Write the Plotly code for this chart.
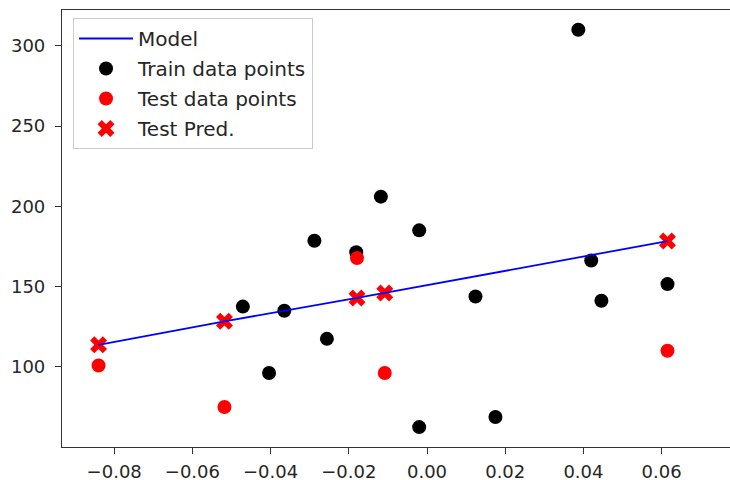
import plotly.graph_objects as go

# Train data (black)
train_x = [0.0387, -0.0118, -0.0020, -0.0288, -0.0181, -0.0471, -0.0365, -0.0256,
           -0.0404, 0.0124, 0.0420, 0.0446, 0.0615, 0.0175, -0.0020]
train_y = [310, 206, 185, 178.5, 171.4, 137.5, 134.9, 117.4,
           96.1, 143.8, 166.2, 141.1, 151.5, 68.7, 62.4]

# Test data (red)
test_x = [-0.0840, -0.0518, -0.0179, -0.0108, 0.0615]
test_y = [100.8, 74.9, 167.7, 96.1, 110.0]

# Model predictions on test x
pred_y = [113.7, 128.3, 142.9, 146.0, 178.3]

x_ticks = [-0.08, -0.06, -0.04, -0.02, 0.00, 0.02, 0.04, 0.06]
x_tick_labels = ["\u22120.08", "\u22120.06", "\u22120.04", "\u22120.02", "0.00", "0.02", "0.04", "0.06"]
y_ticks = [100, 150, 200, 250, 300]

FONT = "DejaVu Sans"
TXT = "#262626"

fig = go.Figure()
fig.add_trace(go.Scatter(x=train_x, y=train_y, mode="markers", name="Train data points",
                         marker=dict(color="black", size=14, line=dict(width=0)),
                         legendgroup="b", legendrank=2))
fig.add_trace(go.Scatter(x=test_x, y=test_y, mode="markers", name="Test data points",
                         marker=dict(color="#ff0000", size=14, line=dict(width=0)),
                         legendgroup="c", legendrank=3))
fig.add_trace(go.Scatter(x=test_x, y=pred_y, mode="markers", name="Test Pred.",
                         marker=dict(color="#ff0000", size=15, symbol="x", line=dict(width=0)),
                         legendgroup="d", legendrank=4))
fig.add_trace(go.Scatter(x=test_x, y=pred_y, mode="lines", name="Model",
                         line=dict(color="#0000ff", width=1.8),
                         legendgroup="a", legendrank=1))

fig.update_layout(
    width=730, height=480,
    margin=dict(l=62, r=0, t=10, b=33),
    paper_bgcolor="white", plot_bgcolor="white",
    font=dict(family=FONT, size=18, color=TXT),
    showlegend=True,
    legend=dict(x=0.0165, y=0.9817, xanchor="left", yanchor="top",
                bgcolor="white", bordercolor="#cccccc", borderwidth=1,
                font=dict(family=FONT, size=20, color=TXT),
                tracegroupgap=1, itemwidth=54),
)
fig.update_xaxes(range=[-0.09335, 0.07749], tickvals=x_ticks, ticktext=x_tick_labels,
                 automargin=False,
                 showgrid=False, zeroline=False, showline=True, linecolor="#333333",
                 linewidth=1.2, mirror=True, ticks="outside", ticklen=6, tickcolor="#333333",
                 ticklabelstandoff=2,
                 tickfont=dict(family=FONT, size=18, color=TXT))
fig.update_yaxes(range=[50.0, 322.3], tickvals=y_ticks,
                 automargin=False,
                 showgrid=False, zeroline=False, showline=True, linecolor="#333333",
                 linewidth=1.2, mirror=False, ticks="outside", ticklen=6, tickcolor="#333333",
                 ticklabelstandoff=6,
                 tickfont=dict(family=FONT, size=18, color=TXT))

fig.write_html("out.html",
               config={"displayModeBar": False},
               post_script="document.body.style.margin='0';document.body.style.overflow='hidden';")
